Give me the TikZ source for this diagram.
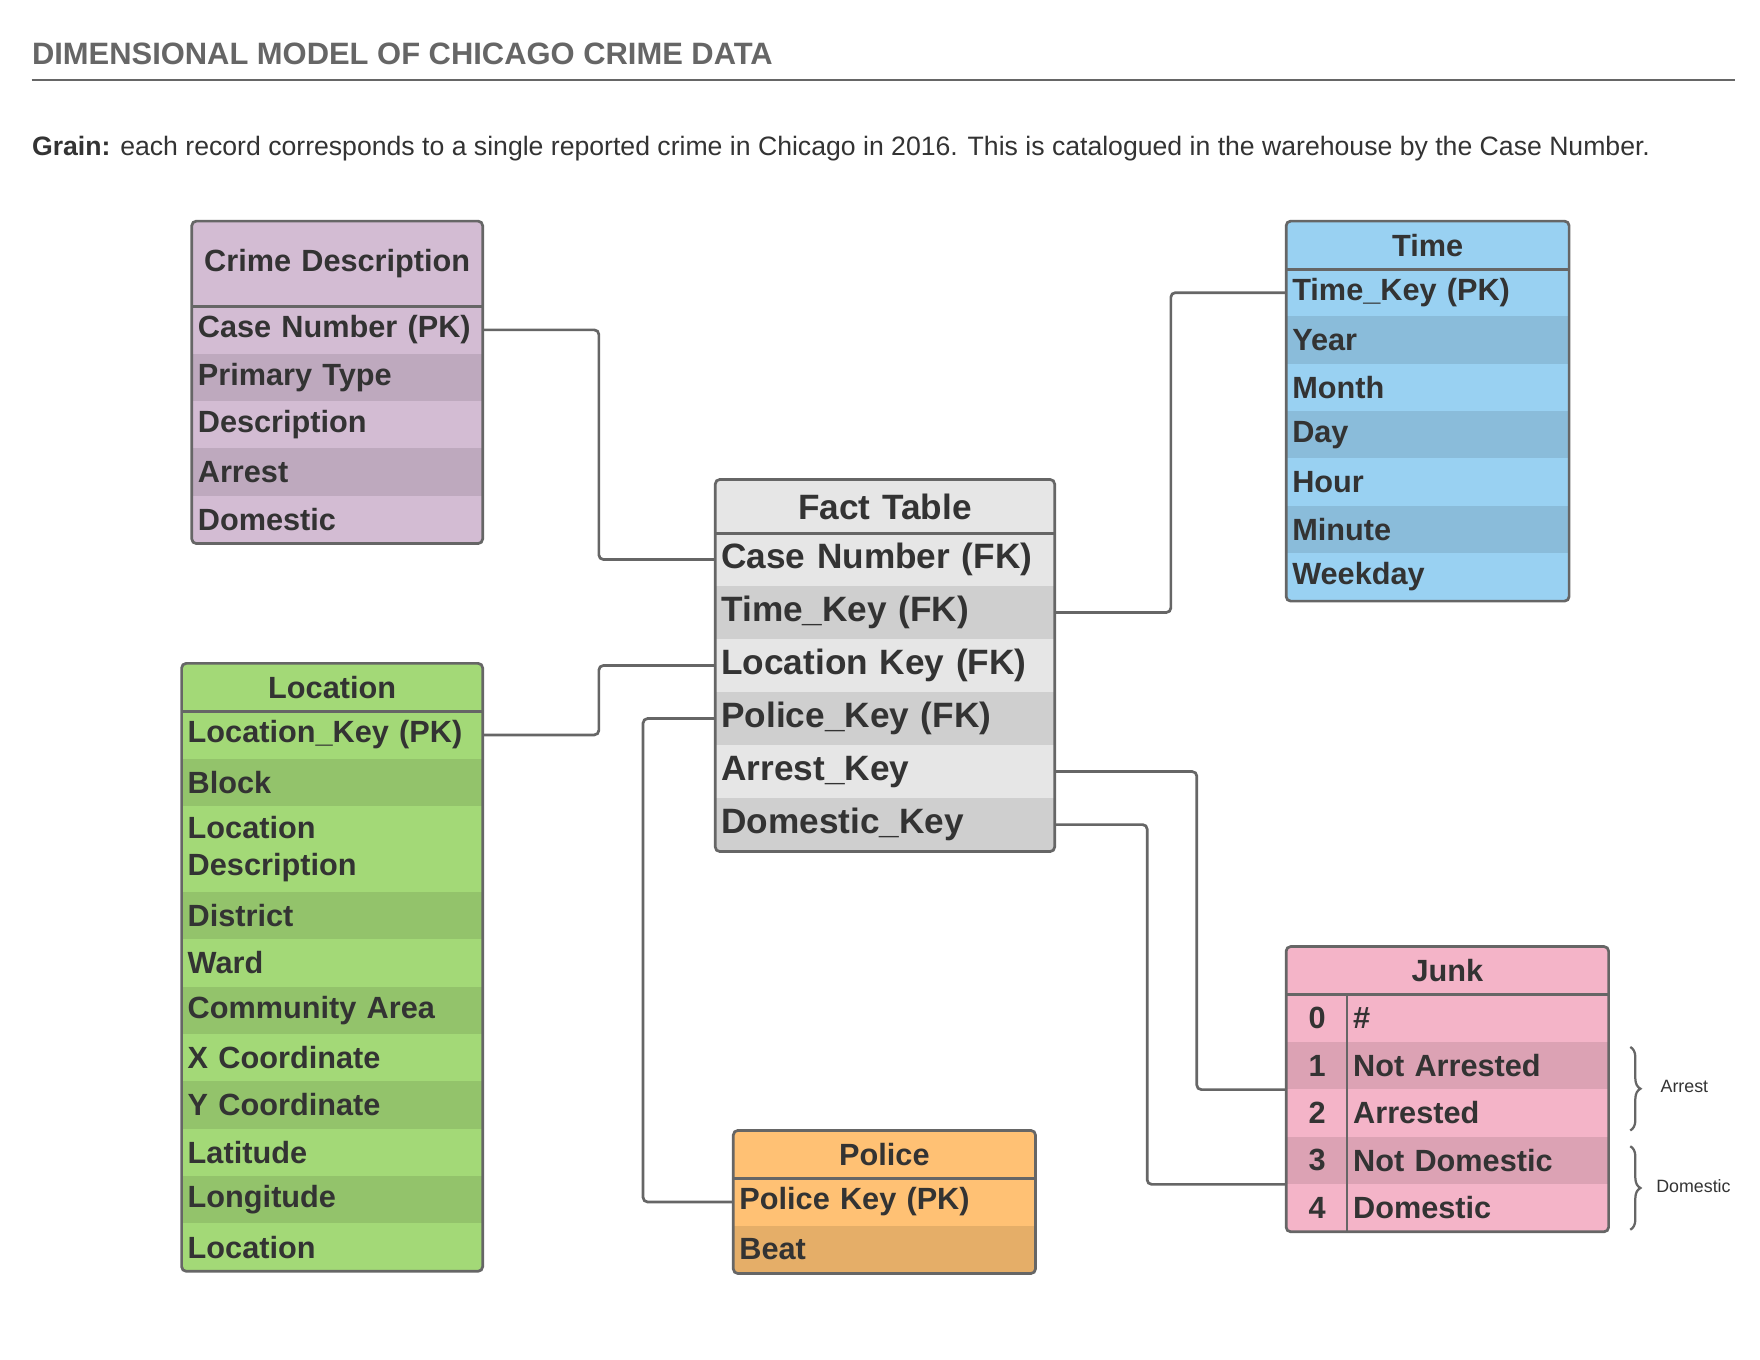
\documentclass[tikz,border=0pt]{standalone}
\usepackage{fontspec}
\setmainfont{Liberation Sans}
\usetikzlibrary{decorations.pathreplacing}

\definecolor{edgegray}{HTML}{666666}
\definecolor{ink}{HTML}{333333}
\definecolor{cdL}{RGB}{211,188,211}
\definecolor{tmL}{RGB}{153,209,242}
\definecolor{locL}{RGB}{163,217,119}
\definecolor{poL}{RGB}{255,193,116}
\definecolor{jkL}{RGB}{244,180,200}
\definecolor{ftL}{RGB}{230,230,230}
\colorlet{cdD}{cdL!90!black}
\colorlet{tmD}{tmL!90!black}
\colorlet{locD}{locL!90!black}
\colorlet{poD}{poL!90!black}
\colorlet{jkD}{jkL!90!black}
\colorlet{ftD}{ftL!90!black}

\tikzset{
  cell/.style={anchor=north west, inner xsep=2.5pt, inner ysep=0pt,
    minimum height=21pt, text width=#1, align=left, text=ink,
    font=\fontsize{13.6}{16.5}\selectfont\bfseries},
  head/.style={align=center},
  bigcell/.style={font=\fontsize{15.6}{18}\selectfont\bfseries, minimum height=23.5pt},
  box/.style={draw=edgegray, line width=1.2pt, rounded corners=2pt},
  sep/.style={draw=edgegray, line width=1.2pt},
  link/.style={draw=edgegray, line width=1.2pt, rounded corners=2pt},
  note/.style={text=ink, font=\fontsize{7.9}{9}\selectfont},
}

\begin{document}
\begin{tikzpicture}[x=0.5pt,y=-0.5pt]
  \fill[white] (0,0) rectangle (1560,1205.45);
  \useasboundingbox (0,0) rectangle (1560,1205.45);

  % heading
  \node[anchor=base west, inner sep=0pt, text=edgegray,
    font=\fontsize{13.7}{16}\selectfont\bfseries] (title) at (28,57)
    {DIMENSIONAL MODEL OF CHICAGO CRIME DATA};
  \draw[sep] (28,71) -- (1538,71);
  \node[anchor=base west, inner sep=0pt, text=ink,
    font=\fontsize{11.8}{14}\selectfont] (grain) at (28,138)
    {\textbf{Grain:} each record corresponds to a single reported crime in Chicago in 2016. This is catalogued in the warehouse by the Case Number.};

  % crime description
  \node[cell=123.5pt, head, fill=cdL, minimum height=37.5pt] (cd0) at (170,196) {Crime Description};
  \foreach \t [count=\i] in {Case Number (PK),Primary Type,Description,Arrest,Domestic}{
    \ifodd\i\relax \def\rowfill{cdL}\else \def\rowfill{cdD}\fi
    \node[cell=123.5pt, fill=\rowfill] (cd\i) at (170,{271+42*(\i-1)}) {\t};
  }
  \draw[box] (cd0.north west) rectangle (cd5.south east);
  \draw[sep] (cd0.south west) -- (cd0.south east);

  % time
  \node[cell=120pt, head, fill=tmL] (tm0) at (1140,196) {Time};
  \foreach \t [count=\i] in {Time\_Key (PK),Year,Month,Day,Hour,Minute,Weekday}{
    \ifodd\i\relax \def\rowfill{tmL}\else \def\rowfill{tmD}\fi
    \node[cell=120pt, fill=\rowfill] (tm\i) at (1140,{238+42*(\i-1)}) {\t};
  }
  \draw[box] (tm0.north west) rectangle (tm7.south east);
  \draw[sep] (tm0.south west) -- (tm0.south east);

  % fact table
  \node[cell=145pt, head, bigcell, fill=ftL] (ft0) at (634,425) {Fact Table};
  \foreach \t [count=\i] in {Case Number (FK),Time\_Key (FK),Location Key (FK),Police\_Key (FK),Arrest\_Key,Domestic\_Key}{
    \ifodd\i\relax \def\rowfill{ftL}\else \def\rowfill{ftD}\fi
    \node[cell=145pt, bigcell, fill=\rowfill] (ft\i) at (634,{472+47*(\i-1)}) {\t};
  }
  \draw[box] (ft0.north west) rectangle (ft6.south east);
  \draw[sep] (ft0.south west) -- (ft0.south east);

  % location
  \node[cell=128pt, head, fill=locL] (loc0) at (161,588) {Location};
  \foreach \y/\h/\t [count=\i] in {630/21/Location\_Key (PK),672/21/Block,714/38/{Location\\Description},
      790/21/District,832/21/Ward,874/21/Community Area,916/21/X Coordinate,958/21/Y Coordinate,
      1000/21/Latitude,1042/21/Longitude,1084/21/Location}{
    \ifodd\i\relax \def\rowfill{locL}\else \def\rowfill{locD}\fi
    \node[cell=128pt, fill=\rowfill, minimum height=\h pt] (loc\i) at (161,\y) {\t};
  }
  \draw[box] (loc0.north west) rectangle (loc11.south east);
  \draw[sep] (loc0.south west) -- (loc0.south east);

  % police
  \node[cell=128.5pt, head, fill=poL] (po0) at (650,1002) {Police};
  \node[cell=128.5pt, fill=poL] (po1) at (650,1044) {Police Key (PK)};
  \node[cell=128.5pt, fill=poD] (po2) at (650,1086) {Beat};
  \draw[box] (po0.north west) rectangle (po2.south east);
  \draw[sep] (po0.south west) -- (po0.south east);

  % junk
  \node[cell=137.5pt, head, fill=jkL] (jk) at (1140,839) {Junk};
  \foreach \n/\t in {0/\#,1/Not Arrested,2/Arrested,3/Not Domestic,4/Domestic}{
    \ifodd\n\relax \def\rowfill{jkD}\else \def\rowfill{jkL}\fi
    \node[cell=22pt, align=center, fill=\rowfill] (jk\n) at (1140,{881+42*\n}) {\n};
    \node[cell=110.5pt, fill=\rowfill] (jt\n) at (1194,{881+42*\n}) {\t};
  }
  \draw[box] (jk.north west) rectangle (jt4.south east);
  \draw[sep] (jk.south west) -- (jk.south east);
  \draw[sep] (jt0.north west) -- (jt4.south west);

  \draw[edgegray, line width=1pt, decorate, decoration={brace, amplitude=4.5pt}]
    (1445,928) -- (1445,1002);
  \draw[edgegray, line width=1pt, decorate, decoration={brace, amplitude=4.5pt}]
    (1445,1016) -- (1445,1090);
  \node[note] (arrestnote) at (1493,963) {Arrest};
  \node[note] (domnote) at (1501,1051) {Domestic};

  % links
  \draw[link] (cd1.east) -- ++(103,0) |- (ft1.west);
  \draw[link] (ft2.east) -- ++(103,0) |- (tm1.west);
  \draw[link] (loc1.east) -- ++(103,0) |- (ft3.west);
  \draw[link] (ft4.west) -- ++(-64,0) |- (po1.west);
  \draw[link] (ft5.east) -- ++(126,0) |- (jk1.south west);
  \draw[link] (ft6.east) -- ++(82,0) |- (jk3.south west);
\end{tikzpicture}
\end{document}
